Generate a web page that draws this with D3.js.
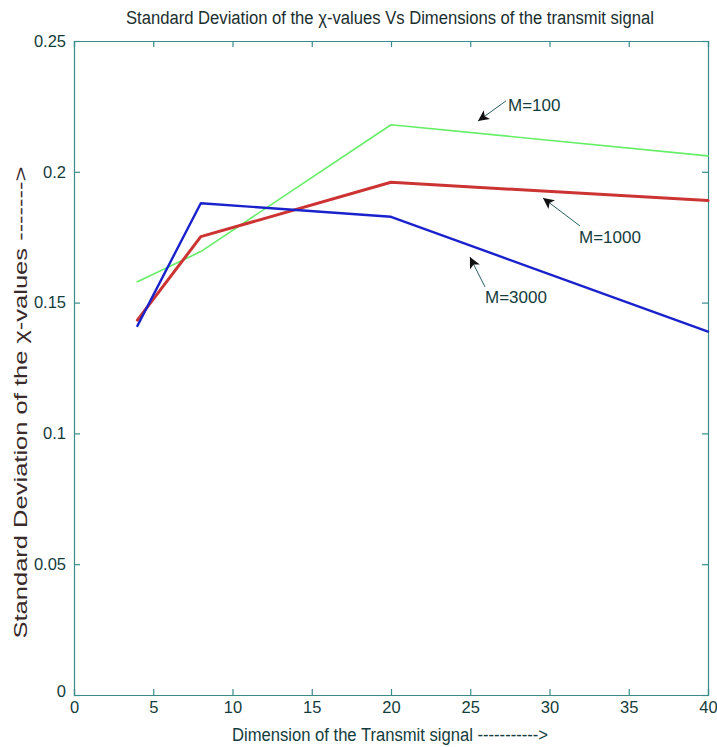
<!DOCTYPE html>
<html>
<head>
<meta charset="utf-8">
<script src="https://cdn.jsdelivr.net/npm/d3@7"></script>
<style>
  html, body { margin: 0; padding: 0; background: #fff; }
  svg { display: block; }
  text { font-family: "Liberation Sans", Arial, sans-serif; }
</style>
</head>
<body>
<svg id="chart" width="717" height="747"></svg>
<script>
// ---- data ----
const xValues = [4, 8, 20, 40];
const seriesNames = ["M=100", "M=1000", "M=3000"];
const m100 = [0.1580, 0.1695, 0.2180, 0.2061];
const m1000 = [0.1433, 0.1752, 0.1960, 0.1890];
const m3000 = [0.1411, 0.1880, 0.1828, 0.1389];
const xTicks = [0, 5, 10, 15, 20, 25, 30, 35, 40];
const yTicks = [0, 0.05, 0.1, 0.15, 0.2, 0.25];
const yTickLabels = ["0", "0.05", "0.1", "0.15", "0.2", "0.25"];
// annotation anchors in data units: label start, arrow tail, arrow tip
const annLabels = ["M=100", "M=1000", "M=3000"];
const annText = [[27.38, 0.2255], [31.86, 0.1751], [25.93, 0.1521]];
const annTail = [[27.25, 0.2271], [31.92, 0.1793], [25.93, 0.1560]];
const annTip = [[25.49, 0.2194], [29.59, 0.1900], [24.98, 0.1674]];

const seriesValues = [m100, m1000, m3000];
const colors = ["#66ee66", "#cc3333", "#1a22cc"];
const widths = [1.6, 3, 2.4];

const svg = d3.select("#chart");
const L = 74, R = 708, T = 41, B = 695;
const x = d3.scaleLinear().domain([0, 40]).range([L, R]);
const y = d3.scaleLinear().domain([0, 0.25]).range([B, T]);
const axisColor = "#3a8c8c";
const textColor = "#143c3c";

// defs
const defs = svg.append("defs");
defs.append("marker").attr("id", "arr").attr("viewBox", "0 0 10 10")
  .attr("refX", 10).attr("refY", 5).attr("markerWidth", 11).attr("markerHeight", 11)
  .attr("markerUnits", "userSpaceOnUse").attr("orient", "auto")
  .append("path").attr("d", "M0,0 L10,5 L0,10 L2.5,5 Z").attr("fill", "#111");

// axes (box with inward ticks)
const gx = svg.append("g").attr("transform", `translate(0,${B})`)
  .call(d3.axisBottom(x).tickValues(xTicks).tickSize(-6).tickPadding(6).tickFormat(d3.format("d")));
const gxt = svg.append("g").attr("transform", `translate(0,${T})`)
  .call(d3.axisTop(x).tickValues(xTicks).tickSize(-6).tickFormat(""));
const gy = svg.append("g").attr("transform", `translate(${L},0)`)
  .call(d3.axisLeft(y).tickValues(yTicks).tickSize(-6).tickPadding(8).tickFormat((d, i) => yTickLabels[i]));
const gyr = svg.append("g").attr("transform", `translate(${R},0)`)
  .call(d3.axisRight(y).tickValues(yTicks).tickSize(-6).tickFormat(""));

[gx, gxt, gy, gyr].forEach(g => {
  g.select(".domain").attr("stroke", axisColor).attr("stroke-width", 1.2);
  g.selectAll(".tick line").attr("stroke", axisColor).attr("stroke-width", 1.2);
  g.selectAll(".tick text").attr("fill", textColor).attr("font-size", 16.5);
});
gx.selectAll(".tick text").attr("dy", "0.75em");
gy.selectAll(".tick text").filter((d) => d === 0).attr("dy", "0.1em");

// series lines
const line = d3.line().x((d, i) => x(xValues[i])).y(d => y(d));
seriesValues.forEach((vals, k) => {
  svg.append("path").datum(vals)
    .attr("d", line)
    .attr("fill", "none")
    .attr("stroke", colors[k])
    .attr("stroke-width", widths[k])
    .attr("stroke-linejoin", "round")
    .attr("stroke-linecap", "round");
});

// annotations
annLabels.forEach((lab, k) => {
  svg.append("line")
    .attr("x1", x(annTail[k][0])).attr("y1", y(annTail[k][1]))
    .attr("x2", x(annTip[k][0])).attr("y2", y(annTip[k][1]))
    .attr("stroke", "#2a6060").attr("stroke-width", 1)
    .attr("marker-end", "url(#arr)");
  svg.append("text")
    .attr("x", x(annText[k][0])).attr("y", y(annText[k][1]))
    .attr("dy", "0.36em")
    .attr("font-size", 17)
    .attr("fill", textColor)
    .text(lab);
});

// title
svg.append("text")
  .attr("x", 390).attr("y", 24)
  .attr("text-anchor", "middle")
  .attr("font-size", 18)
  .attr("fill", "#1a2e2e")
  .attr("textLength", 528).attr("lengthAdjust", "spacingAndGlyphs")
  .text("Standard Deviation of the χ-values Vs Dimensions of the transmit signal");

// x label
svg.append("text")
  .attr("x", 390).attr("y", 741)
  .attr("text-anchor", "middle")
  .attr("font-size", 18)
  .attr("fill", textColor)
  .attr("textLength", 316).attr("lengthAdjust", "spacingAndGlyphs")
  .text("Dimension of the Transmit signal ----------->");

// y label
svg.append("text")
  .attr("transform", `translate(27,${(640 + 165) / 2}) rotate(-90)`)
  .attr("text-anchor", "middle")
  .attr("font-size", 19)
  .attr("fill", "#3a2a2a")
  .attr("textLength", 472).attr("lengthAdjust", "spacingAndGlyphs")
  .text("Standard Deviation of the χ-values ------->");
</script>
</body>
</html>
